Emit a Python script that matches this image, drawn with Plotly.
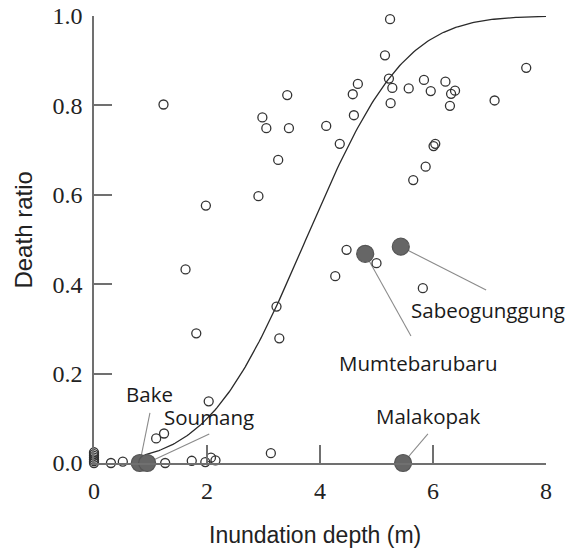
import math
import plotly.graph_objects as go

# Open-circle observations (inundation depth m, death ratio)
depth = [0, 0, 0, 0, 0, 0, 0,
         0.30, 0.51, 1.26, 1.73, 1.97, 2.07, 2.15,
         1.10, 1.24, 2.03, 3.13,
         1.81, 1.62, 1.98, 1.23,
         2.91, 2.98, 3.05, 3.26, 3.42, 3.45,
         3.23, 3.28,
         4.11, 4.35, 4.60, 4.58, 4.67,
         5.24, 5.15, 5.22, 5.28, 5.25, 5.57,
         5.84, 5.96, 6.22, 6.32, 6.39, 6.30, 7.09, 7.65,
         6.01, 6.04, 5.87, 5.65,
         4.27, 4.47, 5.00, 5.82]
ratio = [0.0, 0.004, 0.008, 0.012, 0.016, 0.020, 0.024,
         0.0, 0.003, 0.0, 0.005, 0.002, 0.012, 0.006,
         0.055, 0.066, 0.138, 0.022,
         0.290, 0.433, 0.576, 0.802,
         0.597, 0.773, 0.749, 0.678, 0.823, 0.749,
         0.350, 0.279,
         0.754, 0.714, 0.778, 0.825, 0.848,
         0.993, 0.912, 0.860, 0.839, 0.805, 0.838,
         0.857, 0.832, 0.853, 0.826, 0.833, 0.799, 0.811, 0.884,
         0.709, 0.714, 0.663, 0.633,
         0.418, 0.477, 0.447, 0.391]

# Named villages (filled markers)
village = ["Bake", "Soumang", "Malakopak", "Mumtebarubaru", "Sabeogunggung"]
v_depth = [0.81, 0.94, 5.47, 4.80, 5.43]
v_ratio = [0.0, 0.0, 0.0, 0.468, 0.484]

# Fitted fragility curve (normal CDF) parameters
mu, sigma = 3.75, 1.36
curve_x = [0.9 + i * (8 - 0.9) / 200 for i in range(201)]
curve_y = [0.5 * (1 + math.erf((x - mu) / (sigma * math.sqrt(2)))) for x in curve_x]

x_ticks = [0, 2, 4, 6, 8]
y_ticks = [0.0, 0.2, 0.4, 0.6, 0.8, 1.0]

x_title = "Inundation depth (m)"
y_title = "Death ratio"

# label placement: (label x, label y, line start x, line start y)
label_pos = [
    (0.99, 0.154, 0.99, 0.112),
    (2.04, 0.103, 2.04, 0.065),
    (5.91, 0.105, 5.91, 0.065),
    (5.75, 0.224, 5.61, 0.284),
    (6.97, 0.342, 6.94, 0.387),
]

SERIF = "Liberation Serif, Times New Roman, Times, serif"
SANS = "Liberation Sans, Arial, Helvetica, sans-serif"

fig = go.Figure()
fig.add_trace(go.Scatter(x=curve_x, y=curve_y, mode="lines",
                         line=dict(color="#2a2a2a", width=1.3),
                         hoverinfo="skip", showlegend=False))
fig.add_trace(go.Scatter(x=depth, y=ratio, mode="markers", cliponaxis=False,
                         marker=dict(symbol="circle-open", size=9,
                                     color="#333333", line=dict(width=1.3)),
                         showlegend=False))
fig.add_trace(go.Scatter(x=v_depth, y=v_ratio, mode="markers", cliponaxis=False,
                         text=village,
                         marker=dict(symbol="circle", size=17, color="#666666",
                                     line=dict(color="#555555", width=1.2)),
                         showlegend=False))

for (lx, ly, sx, sy), vx, vy, name in zip(label_pos, v_depth, v_ratio, village):
    fig.add_shape(type="line", x0=sx, y0=sy, x1=vx, y1=vy, layer="below",
                  line=dict(color="#8a8a8a", width=1.1))
    fig.add_annotation(x=lx, y=ly, text=name, showarrow=False,
                       font=dict(family="Open Sans, sans-serif", size=20.5, color="#1a1a1a"))

# axis titles
fig.add_annotation(x=0.49, y=0, xref="paper", yref="paper", yanchor="middle",
                   yshift=-72, text=x_title, showarrow=False,
                   font=dict(family=SANS, size=23, color="#222222"))
fig.add_annotation(x=0, y=0.52, xref="paper", yref="paper", xanchor="center",
                   xshift=-70, textangle=-90, text=y_title, showarrow=False,
                   font=dict(family=SANS, size=24, color="#222222"))

axis_common = dict(showline=True, linecolor="#707070", linewidth=1.6,
                   ticks="inside", ticklen=18, tickwidth=1.6, tickcolor="#707070",
                   showgrid=False, zeroline=False, automargin=False,
                   tickfont=dict(family=SERIF, size=24, color="#222222"))

fig.update_xaxes(range=[0, 8], tickvals=x_ticks, ticktext=[str(t) for t in x_ticks],
                 ticklabelstandoff=5, **axis_common)
fig.update_yaxes(range=[0, 1], tickvals=y_ticks, ticktext=[f"{t:.1f}" for t in y_ticks],
                 ticklabelstandoff=5, **axis_common)

fig.update_layout(width=579, height=549, margin=dict(l=94, r=33, t=16, b=86),
                  plot_bgcolor="white", paper_bgcolor="white")

fig.write_html("out.html")
